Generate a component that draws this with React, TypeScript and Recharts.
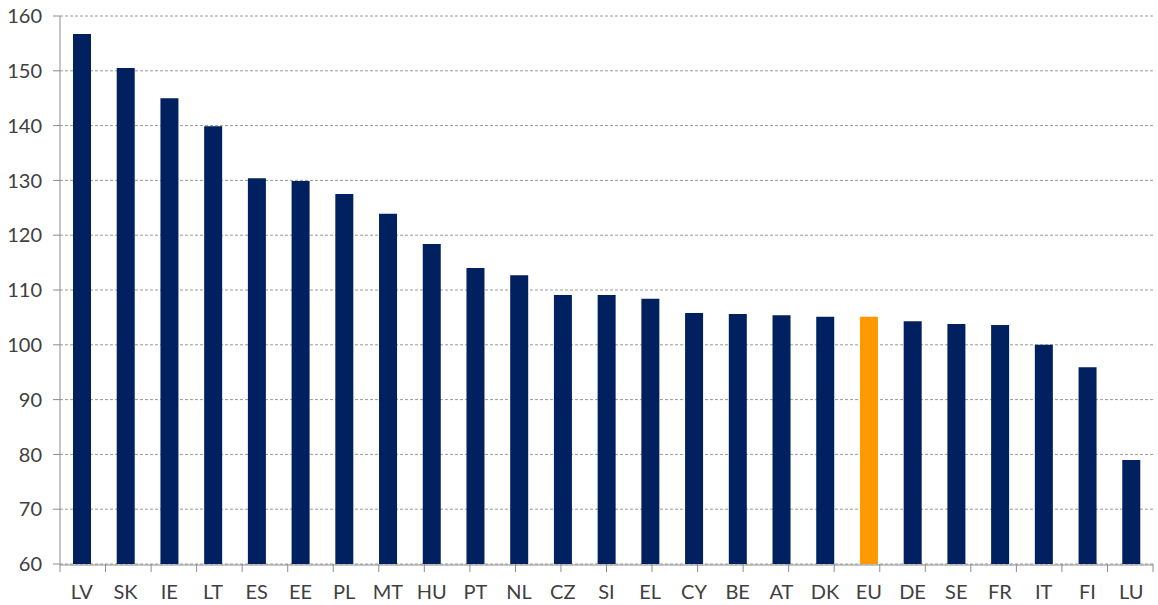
import { BarChart, Bar, XAxis, YAxis, CartesianGrid, Cell } from "recharts";

const countries = [
  "LV", "SK", "IE", "LT", "ES", "EE", "PL", "MT", "HU", "PT", "NL", "CZ", "SI",
  "EL", "CY", "BE", "AT", "DK", "EU", "DE", "SE", "FR", "IT", "FI", "LU",
];

const values = [
  156.7, 150.5, 145.0, 139.9, 130.4, 129.9, 127.5, 123.9, 118.4, 114.0, 112.7, 109.1, 109.1,
  108.4, 105.8, 105.6, 105.4, 105.1, 105.1, 104.3, 103.8, 103.6, 100.0, 95.9, 79.0,
];

const yTicks = [60, 70, 80, 90, 100, 110, 120, 130, 140, 150, 160];
const boundaryTicks = countries.map((_, i) => i).concat(countries.length);

const NAVY = "#002060";
const ORANGE = "#FF9900";
const FONT = "Lato, 'Open Sans', sans-serif";

export default function App() {
  const data = countries.map((c, i) => ({ name: c, value: values[i] }));

  return (
    <div style={{ position: "absolute", left: 0, top: 0, background: "#fff" }}>
      <BarChart
        width={1158}
        height={605}
        data={data}
        margin={{ top: 16, right: 5, left: 0, bottom: 0 }}
        barSize={18}
      >
        <CartesianGrid
          horizontal
          vertical={false}
          stroke="#9a9a9a"
          strokeDasharray="3 2"
        />
        {/* category boundary tick marks, sits right under the plot */}
        <XAxis
          xAxisId="a"
          type="number"
          domain={[0, countries.length]}
          ticks={boundaryTicks}
          interval={0}
          height={1}
          axisLine={false}
          tickFormatter={() => ""}
          tickLine={{ stroke: "#8c8c8c" }}
          tickSize={8}
        />
        <XAxis
          dataKey="name"
          xAxisId="b"
          height={40}
          interval={0}
          axisLine={{ stroke: "#8c8c8c" }}
          tickLine={false}
          tick={{ fontSize: 20, fill: "#404040", fontFamily: FONT }}
          tickMargin={14}
        />
        <YAxis
          width={60}
          domain={[60, 160]}
          ticks={yTicks}
          allowDataOverflow
          axisLine={{ stroke: "#8c8c8c" }}
          tickLine={{ stroke: "#8c8c8c" }}
          tickSize={7}
          tick={{ fontSize: 20, fill: "#404040", fontFamily: FONT }}
          tickMargin={11}
        />
        <Bar dataKey="value" xAxisId="b" isAnimationActive={false}>
          {data.map((d, i) => (
            <Cell key={i} fill={d.name === "EU" ? ORANGE : NAVY} />
          ))}
        </Bar>
      </BarChart>
    </div>
  );
}
